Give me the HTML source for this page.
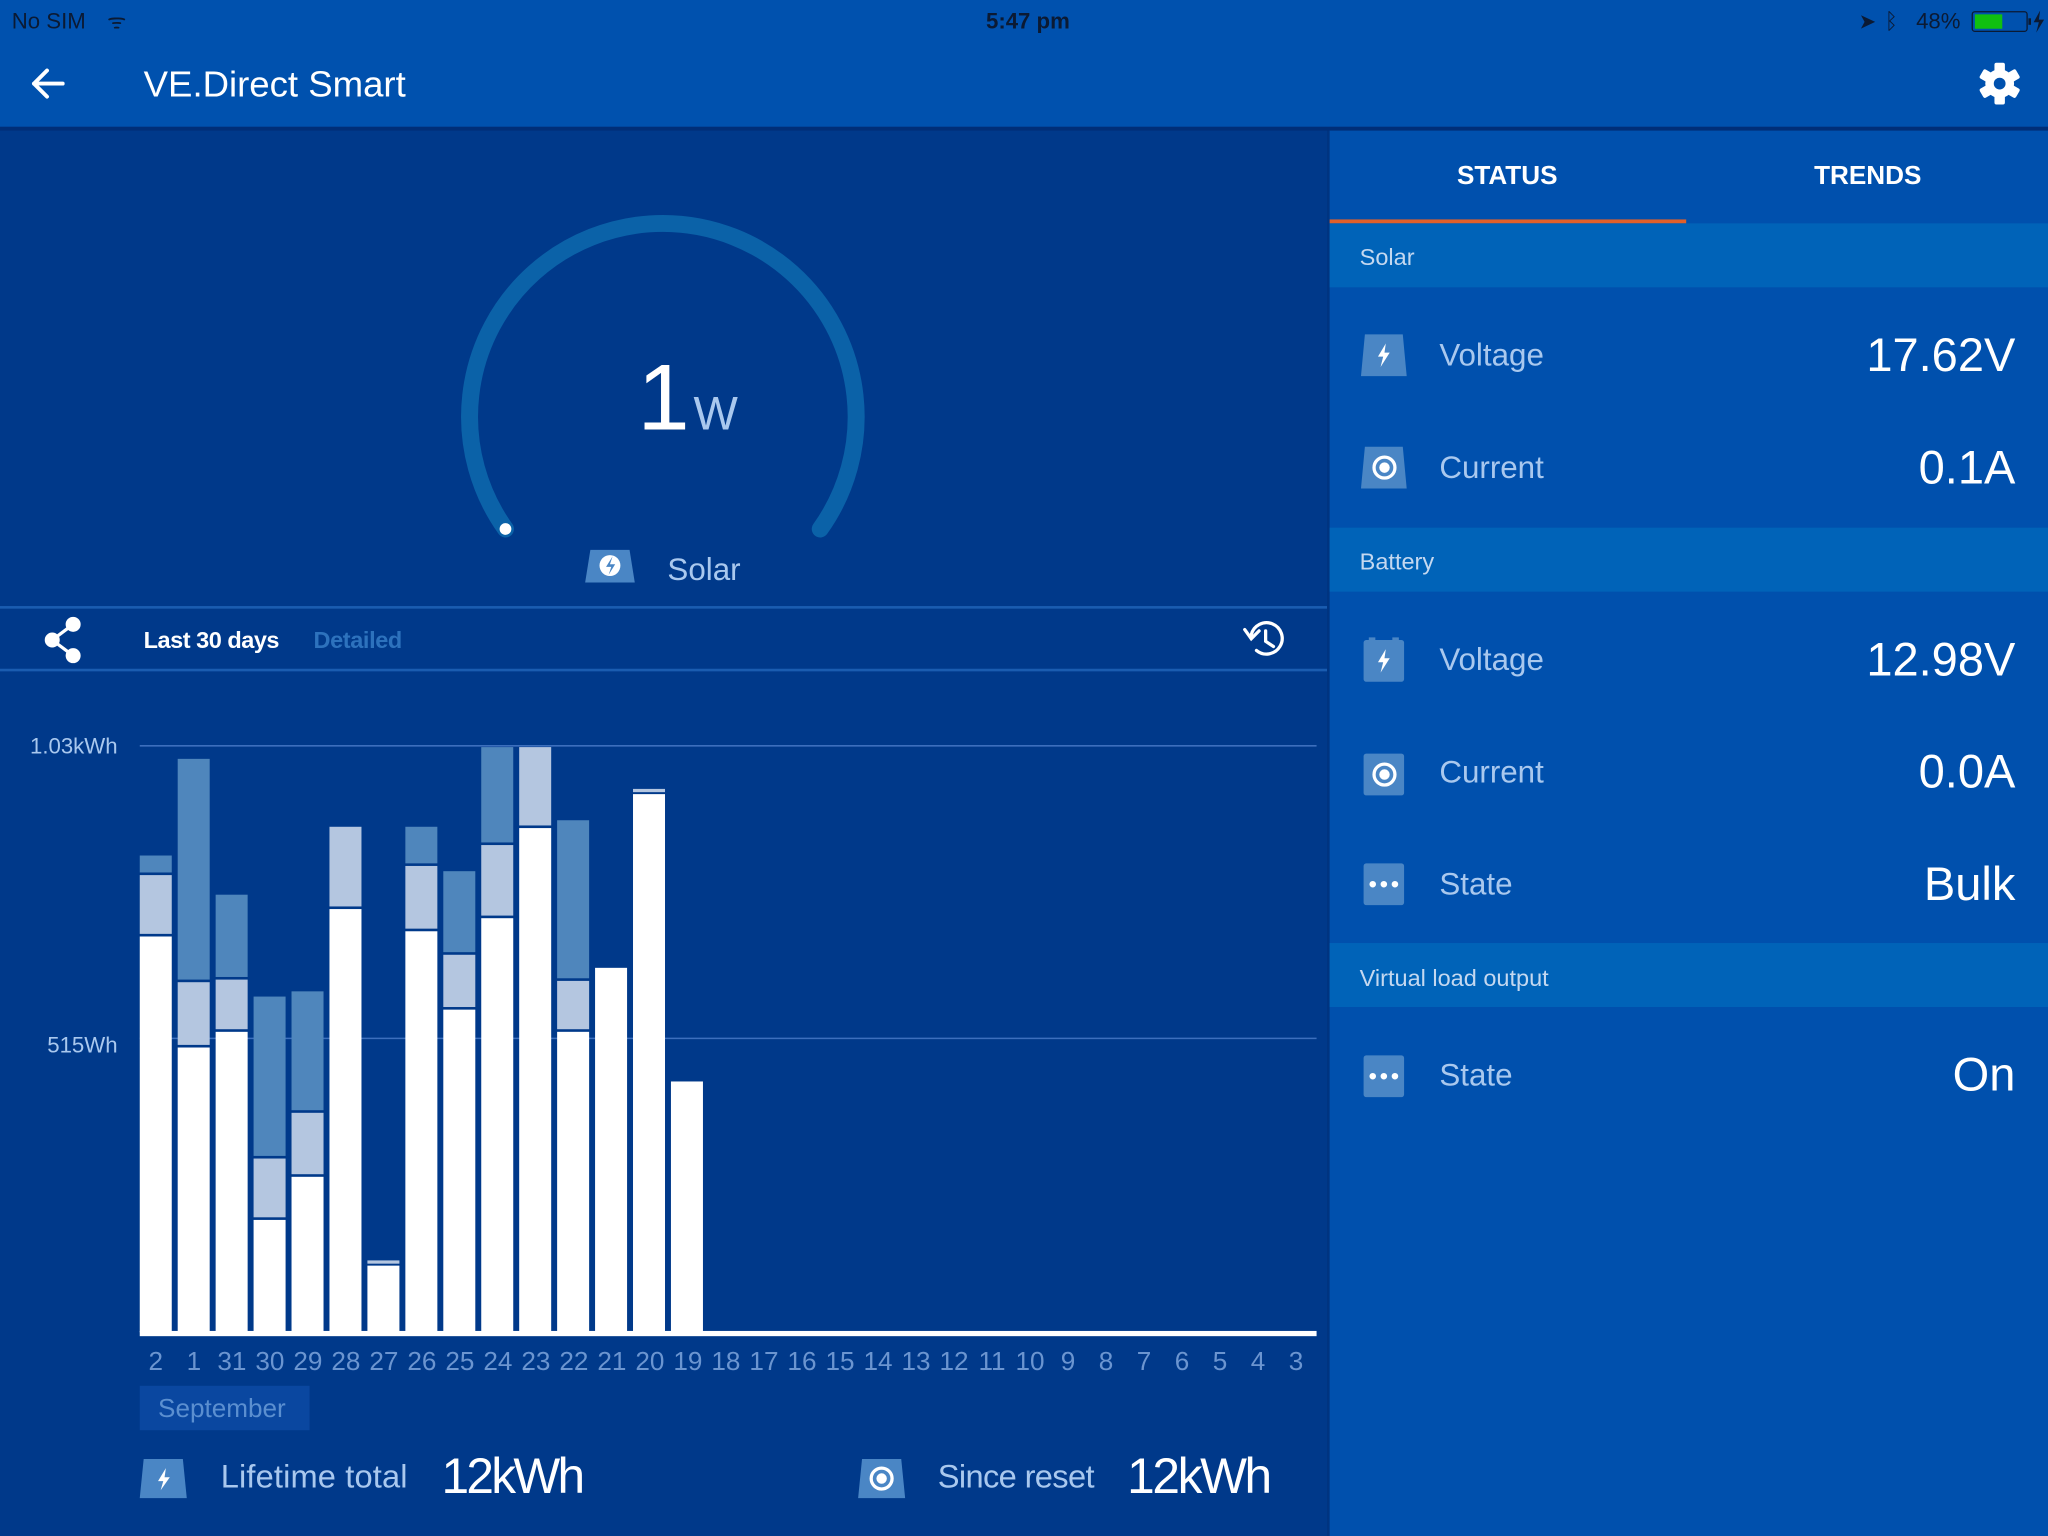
<!DOCTYPE html>
<html><head><meta charset="utf-8"><style>
html,body{margin:0;padding:0;width:2048px;height:1536px;overflow:hidden;background:#00398a}
svg{display:block}
text{font-family:"Liberation Sans",sans-serif}
</style></head><body>
<svg width="2048" height="1536" viewBox="0 0 1568 1176" preserveAspectRatio="none" xmlns="http://www.w3.org/2000/svg">
<rect x="0" y="0" width="1568" height="1176" fill="#00398a"/>
<rect x="1016" y="98" width="552" height="1078" fill="#0050ad"/>
<rect x="1016" y="98" width="2" height="1078" fill="#003480"/>
<rect x="0" y="0" width="1568" height="98" fill="#0051ae"/>
<rect x="0" y="97" width="1568" height="3" fill="#002e78"/>
<text x="9" y="22" font-size="17" fill="#0b1a33">No SIM</text>
<text x="82" y="22" font-size="16" fill="#0b1a33">ᯤ</text>
<text x="787" y="22" font-size="17" font-weight="bold" fill="#0b1a33" text-anchor="middle">5:47 pm</text>
<text x="1423" y="22" font-size="16" fill="#0b1a33">➤</text>
<text x="1443" y="22" font-size="17" fill="#0b1a33">ᛒ</text>
<text x="1467" y="22" font-size="17" fill="#0b1a33">48%</text>
<rect x="1510" y="9" width="42" height="15" rx="2" fill="none" stroke="#0b1a33" stroke-width="1"/>
<rect x="1512" y="11" width="21" height="11" fill="#10c010"/>
<rect x="1553" y="14" width="2" height="5" fill="#0b1a33"/>
<path d="M1562 8 L1557 17 L1561 17 L1559 25 L1565 15 L1561 15 Z" fill="#0b1a33"/>
<path d="M48 64 H26 M36 54 L26 64 L36 74" stroke="#fff" stroke-width="3" fill="none" stroke-linecap="round" stroke-linejoin="round"/>
<text x="110" y="74" font-size="28" fill="#fff">VE.Direct Smart</text>
<g transform="translate(1531,64)" fill="#fff">
<circle r="11"/>
<g><rect x="-4" y="-16" width="8" height="32" rx="1.5"/><rect x="-4" y="-16" width="8" height="32" rx="1.5" transform="rotate(60)"/><rect x="-4" y="-16" width="8" height="32" rx="1.5" transform="rotate(120)"/></g>
<circle r="4.5" fill="#0051ae"/>
</g>
<path d="M387 405 A148 148 0 1 1 628 405" stroke="#0b62a8" stroke-width="13" fill="none" stroke-linecap="round"/>
<circle cx="387" cy="405" r="4.5" fill="#fff"/>
<text x="508" y="329" font-size="72" fill="#fff" text-anchor="middle">1</text>
<text x="548" y="329" font-size="36" fill="#a9c8ee" text-anchor="middle">W</text>
<path d="M452 421 H482 L486 446 H448 Z" fill="#4a86c5"/>
<circle cx="467" cy="433" r="8" fill="#fff"/>
<path d="M469 426 L464 434 L468 434 L466 440 L471 432 L467 432 Z" fill="#4a86c5"/>
<text x="511" y="444" font-size="24" fill="#a9c8ee">Solar</text>
<rect x="0" y="464" width="1016" height="2" fill="#1a5cb0"/>
<rect x="0" y="512" width="1016" height="2" fill="#1a5cb0"/>
<g stroke="#fff" stroke-width="2.5" fill="#fff">
<line x1="56" y1="478" x2="40" y2="490"/><line x1="40" y1="490" x2="56" y2="502"/>
<circle cx="56" cy="478" r="4.5"/><circle cx="40" cy="490" r="4.5"/><circle cx="56" cy="502" r="4.5"/>
</g>
<text x="110" y="496" font-size="18" font-weight="bold" fill="#fff" textLength="104">Last 30 days</text>
<text x="240" y="496" font-size="18" font-weight="bold" fill="#2d72bd" textLength="68">Detailed</text>
<g stroke="#fff" stroke-width="2.5" fill="none" stroke-linecap="round">
<path d="M958 486 A12 12 0 1 1 962 498"/>
<path d="M953 482 L958 489 L964 483"/>
<path d="M969 483 V491 L975 495"/>
</g>
<line x1="107" y1="571" x2="1008" y2="571" stroke="#3c6fbd" stroke-width="1.2"/>
<line x1="107" y1="795" x2="1008" y2="795" stroke="#3c6fbd" stroke-width="1.2"/>
<text x="90" y="577" font-size="17" fill="#a9c8ee" text-anchor="end">1.03kWh</text>
<text x="90" y="806" font-size="17" fill="#a9c8ee" text-anchor="end">515Wh</text>
<g>
<rect x="107" y="717" width="24.5" height="303" fill="#fff"/>
<rect x="107" y="670" width="24.5" height="45" fill="#b4c6e0"/>
<rect x="107" y="655" width="24.5" height="13" fill="#4f86bc"/>
<rect x="136.05" y="802" width="24.5" height="218" fill="#fff"/>
<rect x="136.05" y="752" width="24.5" height="48" fill="#b4c6e0"/>
<rect x="136.05" y="581" width="24.5" height="169" fill="#4f86bc"/>
<rect x="165.1" y="790" width="24.5" height="230" fill="#fff"/>
<rect x="165.1" y="750" width="24.5" height="38" fill="#b4c6e0"/>
<rect x="165.1" y="685" width="24.5" height="63" fill="#4f86bc"/>
<rect x="194.15" y="934" width="24.5" height="86" fill="#fff"/>
<rect x="194.15" y="887" width="24.5" height="45" fill="#b4c6e0"/>
<rect x="194.15" y="763" width="24.5" height="122" fill="#4f86bc"/>
<rect x="223.2" y="901" width="24.5" height="119" fill="#fff"/>
<rect x="223.2" y="852" width="24.5" height="47" fill="#b4c6e0"/>
<rect x="223.2" y="759" width="24.5" height="91" fill="#4f86bc"/>
<rect x="252.25" y="696" width="24.5" height="324" fill="#fff"/>
<rect x="252.25" y="633" width="24.5" height="61" fill="#b4c6e0"/>
<rect x="281.3" y="969" width="24.5" height="51" fill="#fff"/>
<rect x="281.3" y="965" width="24.5" height="2.5" fill="#b4c6e0"/>
<rect x="310.35" y="713" width="24.5" height="307" fill="#fff"/>
<rect x="310.35" y="663" width="24.5" height="48" fill="#b4c6e0"/>
<rect x="310.35" y="633" width="24.5" height="28" fill="#4f86bc"/>
<rect x="339.4" y="773" width="24.5" height="247" fill="#fff"/>
<rect x="339.4" y="731" width="24.5" height="40" fill="#b4c6e0"/>
<rect x="339.4" y="667" width="24.5" height="62" fill="#4f86bc"/>
<rect x="368.45" y="703" width="24.5" height="317" fill="#fff"/>
<rect x="368.45" y="647" width="24.5" height="54" fill="#b4c6e0"/>
<rect x="368.45" y="572" width="24.5" height="73" fill="#4f86bc"/>
<rect x="397.5" y="634" width="24.5" height="386" fill="#fff"/>
<rect x="397.5" y="572" width="24.5" height="60" fill="#b4c6e0"/>
<rect x="426.55" y="790" width="24.5" height="230" fill="#fff"/>
<rect x="426.55" y="751" width="24.5" height="37" fill="#b4c6e0"/>
<rect x="426.55" y="628" width="24.5" height="121" fill="#4f86bc"/>
<rect x="455.6" y="741" width="24.5" height="279" fill="#fff"/>
<rect x="484.65" y="608" width="24.5" height="412" fill="#fff"/>
<rect x="484.65" y="604" width="24.5" height="2.5" fill="#b4c6e0"/>
<rect x="513.7" y="828" width="24.5" height="192" fill="#fff"/>
</g>
<rect x="107" y="1019" width="901" height="4" fill="#fff"/>
<g font-size="20" fill="#6b95d0" text-anchor="middle">
<text x="119.3" y="1049">2</text><text x="148.4" y="1049">1</text><text x="177.5" y="1049">31</text><text x="206.6" y="1049">30</text><text x="235.7" y="1049">29</text><text x="264.8" y="1049">28</text><text x="293.9" y="1049">27</text><text x="323" y="1049">26</text><text x="352.1" y="1049">25</text><text x="381.2" y="1049">24</text><text x="410.3" y="1049">23</text><text x="439.4" y="1049">22</text><text x="468.5" y="1049">21</text><text x="497.6" y="1049">20</text><text x="526.7" y="1049">19</text><text x="555.8" y="1049">18</text><text x="584.9" y="1049">17</text><text x="614" y="1049">16</text><text x="643.1" y="1049">15</text><text x="672.2" y="1049">14</text><text x="701.3" y="1049">13</text><text x="730.4" y="1049">12</text><text x="759.5" y="1049">11</text><text x="788.6" y="1049">10</text><text x="817.7" y="1049">9</text><text x="846.8" y="1049">8</text><text x="875.9" y="1049">7</text><text x="905" y="1049">6</text><text x="934.1" y="1049">5</text><text x="963.2" y="1049">4</text><text x="992.3" y="1049">3</text>
</g>
<rect x="107" y="1061" width="130" height="34" fill="#0a47a0"/>
<text x="121" y="1085" font-size="20" fill="#5b8fd0">September</text>
<path d="M110 1117 H140 L143 1147 H107 Z" fill="#4a86c5"/>
<path d="M127 1124 L121 1134 L125 1134 L123 1141 L130 1131 L126 1131 Z" fill="#fff"/>
<text x="169" y="1139" font-size="25" fill="#a9c8ee" textLength="143">Lifetime total</text>
<text x="338" y="1143" font-size="38" fill="#fff" textLength="110">12kWh</text>
<path d="M660 1117 H690 L693 1147 H657 Z" fill="#4a86c5"/>
<circle cx="675" cy="1132" r="8" fill="none" stroke="#fff" stroke-width="2.5"/>
<circle cx="675" cy="1132" r="4" fill="#fff"/>
<text x="718" y="1139" font-size="25" fill="#a9c8ee" textLength="120">Since reset</text>
<text x="863" y="1143" font-size="38" fill="#fff" textLength="111">12kWh</text>
<text x="1154" y="141" font-size="20" font-weight="bold" fill="#fff" text-anchor="middle">STATUS</text>
<text x="1430" y="141" font-size="20" font-weight="bold" fill="#fff" text-anchor="middle">TRENDS</text>
<rect x="1018" y="168" width="273" height="3" fill="#e0602a"/>
<rect x="1018" y="171" width="550" height="49" fill="#0063b8"/>
<text x="1041" y="203" font-size="18" fill="#c4d8f0">Solar</text>
<rect x="1018" y="404" width="550" height="49" fill="#0063b8"/>
<text x="1041" y="436" font-size="18" fill="#c4d8f0">Battery</text>
<rect x="1018" y="722" width="550" height="49" fill="#0063b8"/>
<text x="1041" y="755" font-size="18" fill="#c4d8f0">Virtual load output</text>
<g font-size="24" fill="#a9c8ee">
<text x="1102" y="280">Voltage</text>
<text x="1102" y="366">Current</text>
<text x="1102" y="513">Voltage</text>
<text x="1102" y="599">Current</text>
<text x="1102" y="685">State</text>
<text x="1102" y="831">State</text>
</g>
<g font-size="36" fill="#fff" text-anchor="end">
<text x="1543" y="284">17.62V</text>
<text x="1543" y="370">0.1A</text>
<text x="1543" y="517">12.98V</text>
<text x="1543" y="603">0.0A</text>
<text x="1543" y="689">Bulk</text>
<text x="1543" y="835">On</text>
</g>
<path d="M1045 256 H1074 L1077 288 H1042 Z" fill="#4a86c5"/>
<path d="M1061 263 L1055 273 L1059 273 L1057 281 L1064 270 L1060 270 Z" fill="#fff"/>
<path d="M1045 342 H1074 L1077 374 H1042 Z" fill="#4a86c5"/>
<circle cx="1060" cy="358" r="8" fill="none" stroke="#fff" stroke-width="2.5"/><circle cx="1060" cy="358" r="4" fill="#fff"/>
<rect x="1044" y="490" width="31" height="32" rx="2" fill="#4a86c5"/>
<rect x="1048" y="488" width="5" height="3" fill="#4a86c5"/><rect x="1066" y="488" width="5" height="3" fill="#4a86c5"/>
<path d="M1061 497 L1055 507 L1059 507 L1057 515 L1064 504 L1060 504 Z" fill="#fff"/>
<rect x="1044" y="577" width="31" height="32" rx="2" fill="#4a86c5"/>
<circle cx="1060" cy="593" r="8" fill="none" stroke="#fff" stroke-width="2.5"/><circle cx="1060" cy="593" r="4" fill="#fff"/>
<rect x="1044" y="661" width="31" height="32" rx="2" fill="#4a86c5"/>
<circle cx="1051" cy="677" r="2.5" fill="#fff"/><circle cx="1059.5" cy="677" r="2.5" fill="#fff"/><circle cx="1068" cy="677" r="2.5" fill="#fff"/>
<rect x="1044" y="808" width="31" height="32" rx="2" fill="#4a86c5"/>
<circle cx="1051" cy="824" r="2.5" fill="#fff"/><circle cx="1059.5" cy="824" r="2.5" fill="#fff"/><circle cx="1068" cy="824" r="2.5" fill="#fff"/>
</svg>
</body></html>
